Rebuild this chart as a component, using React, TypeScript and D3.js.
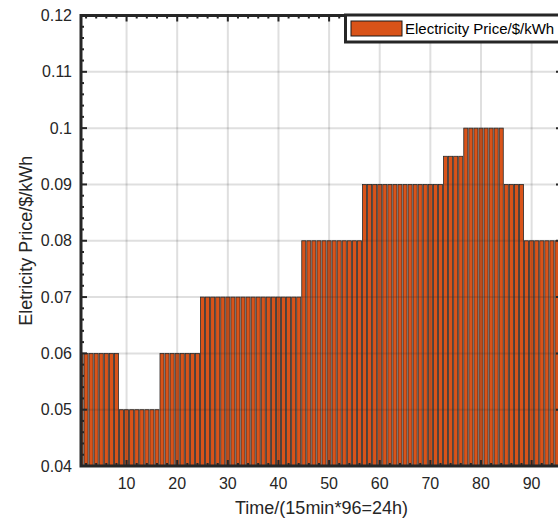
import React from 'react'
import * as d3 from 'd3'

// one value per 15-min slot, 96 slots = 24h
const slots = d3.range(1, 97)
const prices = [
  0.06, 0.06, 0.06, 0.06, 0.06, 0.06, 0.06, 0.06,
  0.05, 0.05, 0.05, 0.05, 0.05, 0.05, 0.05, 0.05,
  0.06, 0.06, 0.06, 0.06, 0.06, 0.06, 0.06, 0.06,
  0.07, 0.07, 0.07, 0.07, 0.07, 0.07, 0.07, 0.07,
  0.07, 0.07, 0.07, 0.07, 0.07, 0.07, 0.07, 0.07,
  0.07, 0.07, 0.07, 0.07, 0.08, 0.08, 0.08, 0.08,
  0.08, 0.08, 0.08, 0.08, 0.08, 0.08, 0.08, 0.08,
  0.09, 0.09, 0.09, 0.09, 0.09, 0.09, 0.09, 0.09,
  0.09, 0.09, 0.09, 0.09, 0.09, 0.09, 0.09, 0.09,
  0.095, 0.095, 0.095, 0.095, 0.1, 0.1, 0.1, 0.1,
  0.1, 0.1, 0.1, 0.1, 0.09, 0.09, 0.09, 0.09,
  0.08, 0.08, 0.08, 0.08, 0.08, 0.08, 0.08, 0.08,
]
const xTicks = [10, 20, 30, 40, 50, 60, 70, 80, 90]
const yTicks = [0.04, 0.05, 0.06, 0.07, 0.08, 0.09, 0.1, 0.11, 0.12]
const seriesName = 'Electricity Price/$/kWh'
const xTitle = 'Time/(15min*96=24h)'
const yTitle = 'Eletricity Price/$/kWh'

const W = 558
const H = 520
const left = 81
const right = 562
const top = 15.5
const bottom = 466

const barColor = '#D95319'
const textColor = '#262626'
const font = 'Arial, "Liberation Sans", Helvetica, sans-serif'

export default function App() {
  const x = d3.scaleLinear().domain([1, 96]).range([left, right])
  const y = d3.scaleLinear().domain([0.04, 0.12]).range([bottom, top])

  const xMinor = d3.range(2, 96, 2).filter((v) => v % 10 !== 0)
  const yMinor = d3.range(0.042, 0.12, 0.002).filter(
    (v) => Math.abs(v * 100 - Math.round(v * 100)) > 1e-6
  )

  return (
    <svg
      width={W}
      height={H}
      style={{position: 'absolute', left: 0, top: 0, background: '#fff'}}
      fontFamily={font}
    >
      <defs>
        <clipPath id="plot">
          <rect x={left} y={top} width={right - left} height={bottom - top} />
        </clipPath>
      </defs>

      {/* bars */}
      <g clipPath="url(#plot)">
        {slots.map((s, i) => (
          <rect
            key={s}
            x={x(s - 0.4)}
            y={y(prices[i])}
            width={x(s + 0.4) - x(s - 0.4)}
            height={y(0.04) - y(prices[i])}
            fill={barColor}
            stroke="#2a2a2a"
            strokeWidth={0.8}
          />
        ))}
      </g>

      {/* grid, drawn on top like Layer 'top' */}
      <g stroke="#262626" strokeOpacity={0.15} strokeWidth={2}>
        {xTicks.map((t) => (
          <line key={'gx' + t} x1={x(t)} x2={x(t)} y1={top} y2={bottom} />
        ))}
        {yTicks.slice(1, -1).map((t) => (
          <line key={'gy' + t} x1={left} x2={right} y1={y(t)} y2={y(t)} />
        ))}
      </g>

      {/* ticks (inward, mirrored) */}
      <g stroke="#262626" strokeWidth={2}>
        {yTicks.map((t) => (
          <g key={'yt' + t}>
            <line x1={left} x2={left + 6} y1={y(t)} y2={y(t)} />
            <line x1={right} x2={right - 6} y1={y(t)} y2={y(t)} />
          </g>
        ))}
        {yMinor.map((t, i) => (
          <g key={'ym' + i}>
            <line x1={left} x2={left + 3} y1={y(t)} y2={y(t)} />
            <line x1={right} x2={right - 3} y1={y(t)} y2={y(t)} />
          </g>
        ))}
        {xTicks.map((t) => (
          <g key={'xt' + t}>
            <line x1={x(t)} x2={x(t)} y1={top} y2={top + 6} />
            <line x1={x(t)} x2={x(t)} y1={bottom} y2={bottom - 6} />
          </g>
        ))}
        {xMinor.map((t) => (
          <g key={'xm' + t}>
            <line x1={x(t)} x2={x(t)} y1={top} y2={top + 3} />
            <line x1={x(t)} x2={x(t)} y1={bottom} y2={bottom - 3} />
          </g>
        ))}
      </g>

      {/* axes box */}
      <rect
        x={left}
        y={top}
        width={right - left}
        height={bottom - top}
        fill="none"
        stroke="#262626"
        strokeWidth={3}
      />

      {/* tick labels */}
      <g fill={textColor} fontSize={16}>
        {yTicks.map((t) => (
          <text key={'yl' + t} x={72} y={y(t)} dy="0.35em" textAnchor="end">
            {d3.format('')(+t.toFixed(3))}
          </text>
        ))}
        {xTicks.map((t) => (
          <text key={'xl' + t} x={x(t)} y={489} textAnchor="middle">
            {t}
          </text>
        ))}
      </g>

      {/* axis titles */}
      <text
        x={(left + right) / 2}
        y={514}
        textAnchor="middle"
        fontSize={18}
        fill={textColor}
      >
        {xTitle}
      </text>
      <text
        transform={`translate(32 ${(top + bottom) / 2}) rotate(-90)`}
        textAnchor="middle"
        fontSize={18}
        fill={textColor}
      >
        {yTitle}
      </text>

      {/* legend */}
      <g>
        <rect x={345.5} y={15} width={260} height={27} fill="#fff" stroke="#262626" strokeWidth={3} />
        <rect x={351} y={21} width={51} height={15} fill={barColor} stroke="#1a1a1a" strokeWidth={1} />
        <text x={405} y={34} fontSize={15} fill="#000">
          {seriesName}
        </text>
      </g>
    </svg>
  )
}
